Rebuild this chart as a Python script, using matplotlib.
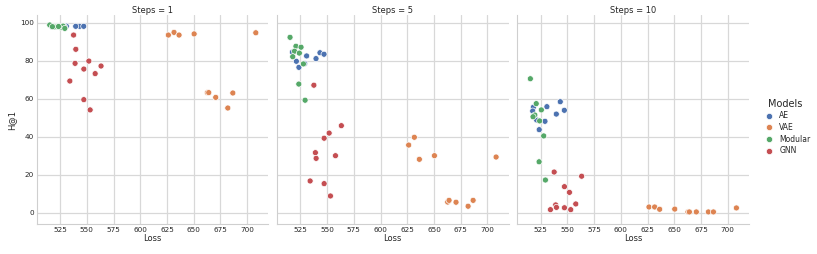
import matplotlib
matplotlib.use("Agg")
import matplotlib.pyplot as plt
import seaborn as sns
import pandas as pd
from matplotlib.lines import Line2D

# ---------------- data ----------------
models = ["AE", "VAE", "Modular", "GNN"]
steps = [1, 5, 10]

ae_loss = [518.1, 517.5, 530.8, 543.3, 547.1, 539.6, 521.2, 529.0, 523.6]
ae_h_s1 = [98.0, 97.8, 98.2, 98.1, 98.1, 98.1, 97.9, 98.0, 97.9]
ae_h_s5 = [82.0, 84.5, 82.5, 84.2, 83.4, 81.1, 79.7, 78.5, 76.5]
ae_h_s10 = [55.5, 53.5, 55.8, 58.4, 53.9, 51.9, 48.8, 48.1, 43.7]

vae_loss = [626.3, 631.6, 636.3, 650.4, 708.1, 662.8, 664.1, 670.6, 681.9, 686.6]
vae_h_s1 = [93.5, 94.9, 93.5, 94.1, 94.7, 63.2, 63.2, 60.7, 55.1, 63.0]
vae_h_s5 = [35.6, 39.7, 28.1, 30.0, 29.3, 5.6, 6.5, 5.5, 3.4, 6.5]
vae_h_s10 = [3.0, 3.0, 1.8, 1.9, 2.5, 0.4, 0.4, 0.4, 0.4, 0.4]

mod_loss = [515.3, 520.8, 525.6, 519.5, 517.8, 524.0, 527.8, 523.5, 529.4]
mod_h_s1 = [98.8, 97.8, 97.5, 97.8, 97.9, 98.0, 98.2, 98.0, 97.0]
mod_h_s5 = [92.3, 87.6, 87.1, 85.0, 82.1, 84.0, 78.3, 67.7, 59.2]
mod_h_s10 = [70.5, 57.4, 54.1, 51.4, 50.5, 48.3, 40.4, 26.8, 17.2]

gnn_loss = [537.6, 563.3, 551.9, 547.2, 539.0, 539.7, 557.8, 534.1, 547.2, 553.1]
gnn_h_s1 = [93.5, 77.2, 79.8, 75.6, 78.6, 86.0, 73.2, 69.3, 59.5, 54.1]
gnn_h_s5 = [67.1, 45.8, 41.9, 39.2, 31.6, 28.6, 30.0, 16.7, 15.3, 8.8]
gnn_h_s10 = [21.4, 19.2, 10.7, 13.7, 4.1, 2.8, 4.6, 1.6, 2.6, 1.6]

x_ticks = [525, 550, 575, 600, 625, 650, 675, 700]
y_ticks = [0, 20, 40, 60, 80, 100]

series = {
    "AE": (ae_loss, {1: ae_h_s1, 5: ae_h_s5, 10: ae_h_s10}),
    "VAE": (vae_loss, {1: vae_h_s1, 5: vae_h_s5, 10: vae_h_s10}),
    "Modular": (mod_loss, {1: mod_h_s1, 5: mod_h_s5, 10: mod_h_s10}),
    "GNN": (gnn_loss, {1: gnn_h_s1, 5: gnn_h_s5, 10: gnn_h_s10}),
}

rows = []
for m in models:
    loss, hs = series[m]
    for s in steps:
        for l, h in zip(loss, hs[s]):
            rows.append({"Models": m, "Steps": s, "Loss": l, "H@1": h})
df = pd.DataFrame(rows)

# ---------------- plot ----------------
sns.set_theme(style="whitegrid", rc={"grid.linewidth": 1.8, "grid.color": "#d8d8d8",
                                     "axes.edgecolor": "#cfcfcf", "axes.linewidth": 1.6,
                                     "xtick.labelsize": 10.5, "ytick.labelsize": 10.5})
palette = sns.color_palette("deep", 4)
colors = dict(zip(models, palette))

DPI = 50
W, H = 817, 254
fig = plt.figure(figsize=(W / DPI, H / DPI), dpi=DPI)

lefts = [36.7, 277.0, 517.3]
ax_w = 231.5
top_px, bot_px = 15, 224

axes = []
for i, s in enumerate(steps):
    ax = fig.add_axes([lefts[i] / W, 1 - bot_px / H, ax_w / W, (bot_px - top_px) / H])
    sub = df[df["Steps"] == s]
    sns.scatterplot(data=sub, x="Loss", y="H@1", hue="Models", hue_order=models,
                    palette=colors, ax=ax, legend=False, s=75, linewidth=1.0,
                    edgecolor="white")
    ax.set_xlim(503.1, 719.7)
    ax.set_ylim(-5.95, 104.05)
    ax.set_xticks(x_ticks)
    ax.set_yticks(y_ticks)
    ax.set_title(f"Steps = {s}", pad=3)
    ax.set_xlabel("Loss", labelpad=2)
    ax.tick_params(length=0, pad=4)
    if i == 0:
        ax.set_ylabel("H@1", labelpad=6)
    else:
        ax.set_ylabel("")
        ax.set_yticklabels([])
    sns.despine(ax=ax)
    axes.append(ax)

handles = [Line2D([0], [0], marker="o", linestyle="", markerfacecolor=colors[m],
                  markeredgecolor="white", markersize=9) for m in models]
leg = fig.legend(handles, models, title="Models", loc="center left",
                 bbox_to_anchor=(754 / W, 0.5), frameon=False, handletextpad=0.4,
                 labelspacing=0.35, title_fontsize=14)

fig.savefig("out.png", dpi=DPI)
